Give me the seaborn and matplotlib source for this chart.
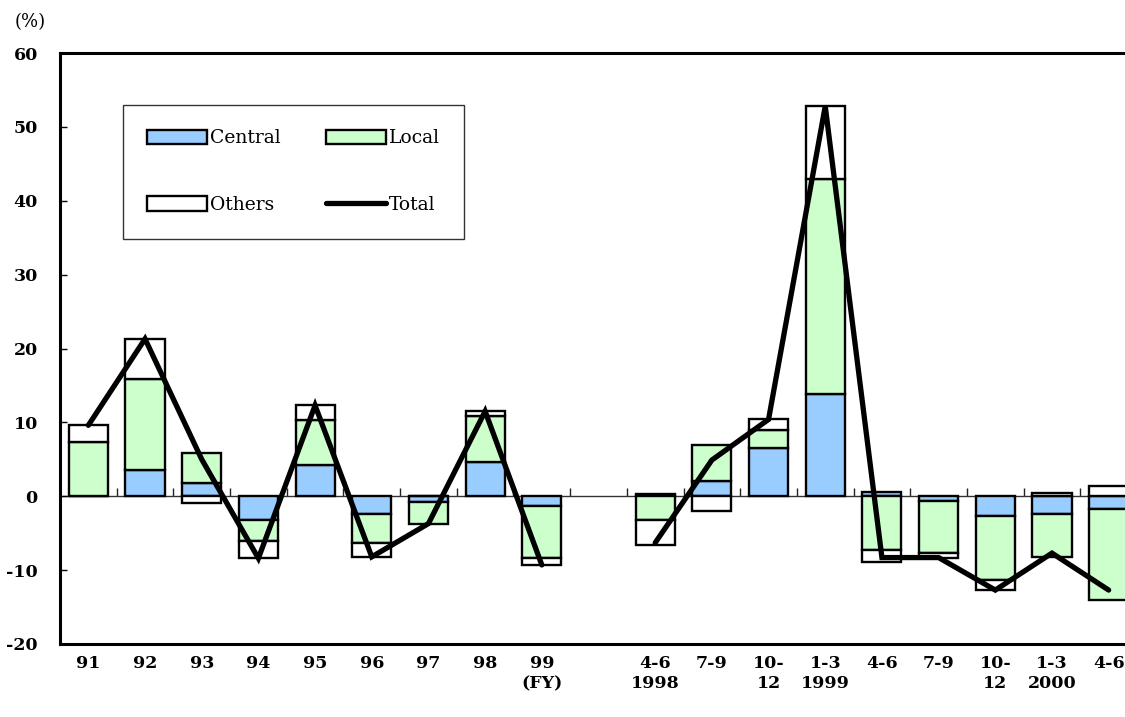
import numpy as np
import pandas as pd
import matplotlib
matplotlib.use("Agg")
import matplotlib.pyplot as plt
from matplotlib.patches import Patch
from matplotlib.lines import Line2D
import seaborn as sns

# Fiscal-year growth contributions (%)
fy_labels = ["91", "92", "93", "94", "95", "96", "97", "98", "99\n(FY)"]
fy_central = [0.0, 3.6, 1.8, -3.2, 4.2, -2.4, -0.8, 4.6, -1.3]
fy_local = [7.4, 12.3, 4.1, -2.9, 6.1, -3.9, -2.9, 6.2, -7.1]
fy_others = [2.2, 5.4, -0.9, -2.3, 2.0, -1.9, 0.0, 0.7, -0.9]
fy_total = [9.6, 21.3, 5.0, -8.4, 12.3, -8.2, -3.7, 11.5, -9.3]

# Quarterly growth contributions (%)
q_labels = ["4-6\n1998", "7-9", "10-\n12", "1-3\n1999", "4-6", "7-9",
            "10-\n12", "1-3\n2000", "4-6"]
q_central = [0.3, 2.0, 6.5, 13.9, 0.6, -0.7, -2.7, -2.4, -1.7]
q_local = [-3.2, 4.9, 2.5, 29.0, -7.3, -7.0, -8.7, -5.8, -12.4]
q_others = [-3.4, -2.0, 1.4, 9.9, -1.6, -0.6, -1.3, 0.5, 1.4]
q_total = [-6.3, 4.9, 10.4, 52.8, -8.3, -8.3, -12.7, -7.7, -12.7]

series_names = ["Central", "Local", "Others"]
series_colors = {"Central": "#99CCFF", "Local": "#CCFFCC", "Others": "#FFFFFF"}

# Slot positions: the fiscal years, one empty slot, then the quarters
fy_pos = list(range(len(fy_labels)))
q_pos = [len(fy_labels) + 1 + i for i in range(len(q_labels))]
positions = fy_pos + q_pos
tick_labels = fy_labels + q_labels
n_slots = len(fy_labels) + 1 + len(q_labels)

df = pd.DataFrame({
    "pos": positions,
    "Central": fy_central + q_central,
    "Local": fy_local + q_local,
    "Others": fy_others + q_others,
})
line_df = pd.DataFrame({
    "pos": positions,
    "total": fy_total + q_total,
    "segment": ["fy"] * len(fy_pos) + ["q"] * len(q_pos),
})

sns.set_theme(style="white")
plt.rcParams["font.family"] = ["DejaVu Serif"]
plt.rcParams["font.size"] = 12.5
plt.rcParams["text.color"] = "black"
plt.rcParams["axes.unicode_minus"] = False

fig = plt.figure(figsize=(11.25, 7.17), dpi=100)
ax = fig.add_axes([60 / 1125, 1 - 644 / 717, 1077 / 1125, (644 - 53) / 717])

# Stacked bars: positive parts stack upward, negative parts downward
pos_cum = np.zeros(len(df))
neg_cum = np.zeros(len(df))
for name in series_names:
    vals = df[name].to_numpy()
    bottom = np.where(vals >= 0, pos_cum, neg_cum)
    sns.barplot(data=df, x="pos", y=name, native_scale=True, width=0.69,
                bottom=bottom, color=series_colors[name], saturation=1,
                edgecolor="black", linewidth=1.7, errorbar=None, ax=ax,
                zorder=3)
    pos_cum = pos_cum + np.where(vals >= 0, vals, 0)
    neg_cum = neg_cum + np.where(vals < 0, vals, 0)

# Total line, broken between the annual and quarterly parts
sns.lineplot(data=line_df, x="pos", y="total", units="segment",
             estimator=None, color="black", linewidth=3.8, ax=ax, zorder=5,
             solid_capstyle="round", solid_joinstyle="miter")

ax.set_xlim(-0.5, n_slots - 0.5)
ax.set_ylim(-20, 60)
ax.set_xlabel("")
ax.set_ylabel("")
ax.set_yticks(range(-20, 61, 10))
ax.tick_params(axis="y", direction="in", length=5, width=1, pad=16,
               left=True, labelsize=12.5, colors="black")
ax.set_xticks(positions)
ax.set_xticklabels(tick_labels, linespacing=1.25)
ax.tick_params(axis="x", length=0, pad=8, labelsize=12.5, colors="black")
for lab in ax.get_xticklabels() + ax.get_yticklabels():
    lab.set_fontweight("bold")

for side in ["left", "top", "bottom"]:
    ax.spines[side].set_visible(True)
    ax.spines[side].set_color("black")
    ax.spines[side].set_linewidth(2.2)
ax.spines["right"].set_visible(False)

# Category axis crossing at zero, with ticks between the slots
ymin, ymax = ax.get_ylim()
zero_axis = ax.secondary_xaxis((0 - ymin) / (ymax - ymin))
zero_axis.set_xticks(np.arange(0.5, n_slots - 0.5, 1.0))
zero_axis.set_xticklabels([])
zero_axis.tick_params(axis="x", direction="in", length=6, width=1,
                      colors="#222222")
zero_axis.spines["bottom"].set_color("#333333")
zero_axis.spines["bottom"].set_linewidth(1.0)

fig.text(15 / 1125, 1 - 22 / 717, "(%)", ha="left", va="center",
         fontsize=13, color="black")

handles = [
    Patch(facecolor=series_colors["Central"], edgecolor="black", linewidth=1.7),
    Patch(facecolor=series_colors["Others"], edgecolor="black", linewidth=1.7),
    Patch(facecolor=series_colors["Local"], edgecolor="black", linewidth=1.7),
    Line2D([], [], color="black", linewidth=3.8, solid_capstyle="round"),
]
leg = ax.legend(handles, ["Central", "Others", "Local", "Total"], ncol=2,
                loc="upper left", bbox_to_anchor=(123 / 1125, 1 - 105 / 717),
                bbox_transform=fig.transFigure, borderaxespad=0,
                fancybox=False, frameon=True, edgecolor="black",
                borderpad=1.3, labelspacing=2.6, handlelength=3.2,
                handleheight=0.8, handletextpad=0.15, columnspacing=2.4,
                fontsize=13.5, labelcolor="black")
leg.get_frame().set_linewidth(1.0)
leg.set_zorder(10)

fig.savefig("out.png", dpi=100, facecolor="white")
